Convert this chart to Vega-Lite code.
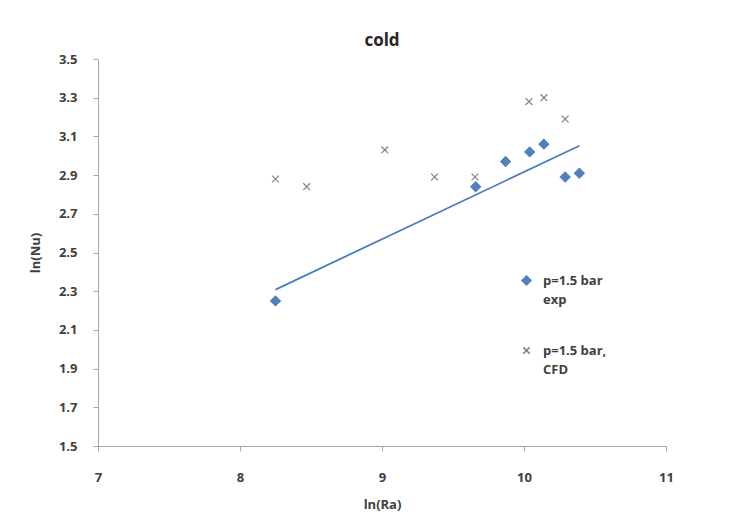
{
  "$schema": "https://vega.github.io/schema/vega-lite/v6.json",
  "width": 568,
  "height": 387,
  "autosize": {"type": "none"},
  "padding": {"left": 98, "top": 59, "right": 75, "bottom": 69},
  "background": "white",
  "config": {
    "font": "Open Sans",
    "view": {"stroke": null},
    "style": {"guide-label": {"lineHeight": 19}},
    "axis": {
      "grid": false,
      "domainColor": "#a6a6a6",
      "tickColor": "#a6a6a6",
      "tickSize": 5,
      "labelFont": "Open Sans",
      "labelFontWeight": "bold",
      "labelFontSize": 13,
      "labelColor": "#404040",
      "titleFont": "Open Sans",
      "titleFontWeight": "bold",
      "titleFontSize": 13,
      "titleColor": "#404040"
    }
  },
  "title": {
    "text": "cold",
    "fontSize": 17,
    "fontWeight": "bold",
    "color": "#262626",
    "offset": 3,
    "anchor": "middle"
  },
  "data": {
    "values": [
      {"series": "exp", "lnRa": 8.25, "lnNu": 2.25},
      {"series": "exp", "lnRa": 9.66, "lnNu": 2.84},
      {"series": "exp", "lnRa": 9.87, "lnNu": 2.97},
      {"series": "exp", "lnRa": 10.04, "lnNu": 3.02},
      {"series": "exp", "lnRa": 10.14, "lnNu": 3.06},
      {"series": "exp", "lnRa": 10.29, "lnNu": 2.89},
      {"series": "exp", "lnRa": 10.39, "lnNu": 2.91},
      {"series": "CFD", "lnRa": 8.25, "lnNu": 2.88},
      {"series": "CFD", "lnRa": 8.47, "lnNu": 2.84},
      {"series": "CFD", "lnRa": 9.02, "lnNu": 3.03},
      {"series": "CFD", "lnRa": 9.37, "lnNu": 2.89},
      {"series": "CFD", "lnRa": 9.655, "lnNu": 2.89},
      {"series": "CFD", "lnRa": 10.035, "lnNu": 3.28},
      {"series": "CFD", "lnRa": 10.14, "lnNu": 3.30},
      {"series": "CFD", "lnRa": 10.29, "lnNu": 3.19}
    ]
  },
  "layer": [
    {
      "transform": [
        {"filter": "datum.series === 'exp'"},
        {"regression": "lnNu", "on": "lnRa"}
      ],
      "mark": {"type": "line", "color": "#4a7ebb", "strokeWidth": 1.8},
      "encoding": {
        "x": {"field": "lnRa", "type": "quantitative"},
        "y": {"field": "lnNu", "type": "quantitative"}
      }
    },
    {
      "mark": {"type": "point", "filled": true, "strokeWidth": 1.2, "opacity": 1},
      "encoding": {
        "x": {
          "field": "lnRa",
          "type": "quantitative",
          "title": "ln(Ra)",
          "scale": {"domain": [7, 11], "nice": false, "zero": false},
          "axis": {"values": [7, 8, 9, 10, 11], "format": "d", "labelPadding": 20, "titlePadding": 14, "labelFlush": false, "labelOverlap": false}
        },
        "y": {
          "field": "lnNu",
          "type": "quantitative",
          "title": "ln(Nu)",
          "scale": {"domain": [1.5, 3.5], "nice": false, "zero": false},
          "axis": {"values": [1.5, 1.7, 1.9, 2.1, 2.3, 2.5, 2.7, 2.9, 3.1, 3.3, 3.5], "format": ".1f", "labelPadding": 16, "titlePadding": 16, "labelFlush": false, "labelOverlap": false, "tickCount": 11}
        },
        "fill": {
          "field": "series",
          "type": "nominal",
          "scale": {"domain": ["exp", "CFD"], "range": ["#4f81bd", "#7f7f95"]},
          "legend": {
            "title": null,
            "orient": "none",
            "legendX": 422,
            "legendY": 215,
            "labelExpr": "datum.label === 'exp' ? ['p=1.5 bar', 'exp'] : ['p=1.5 bar,', 'CFD']",
            "labelFont": "Open Sans",
            "labelFontWeight": "bold",
            "labelFontSize": 13,
            "labelColor": "#404040",
            "labelLimit": 200,
            "rowPadding": 37,
            "symbolSize": 80,
            "labelOffset": 10
          }
        },
        "stroke": {
          "field": "series",
          "type": "nominal",
          "scale": {"domain": ["exp", "CFD"], "range": ["#4f81bd", "#7f7f95"]}
        },
        "shape": {
          "field": "series",
          "type": "nominal",
          "scale": {"domain": ["exp", "CFD"], "range": ["diamond", "M-0.7,-0.7L0.7,0.7M-0.7,0.7L0.7,-0.7"]}
        },
        "size": {"value": 95}
      }
    }
  ]
}
